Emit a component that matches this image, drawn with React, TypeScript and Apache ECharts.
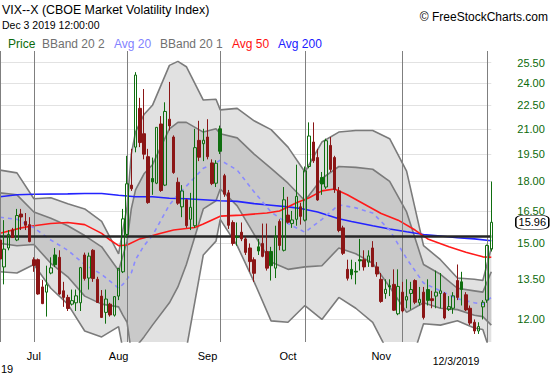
import React, { useEffect, useRef } from 'react';
import * as echarts from 'echarts';

const FONT = "'Liberation Sans', Arial, Helvetica, sans-serif";
const GREEN = '#0f6e0f';
const RED = '#8b1616';

const HOLIDAYS = ['2019-07-04', '2019-09-02', '2019-11-28'];
const FIRST_DAY = [2019, 5, 19];
const LAST_DAY = [2019, 11, 3];

// daily VIX candles (Jun 19 .. Dec 3 2019)
const open = [
  15.15, 14.0, 14.8, 15.6, 15.15, 16.35, 16.0, 15.85,
  14.3, 14.3, 13.2, 13.0, 13.75, 14.5, 14.4, 13.05, 12.8, 12.55, 12.6, 12.6, 14.5, 13.55, 14.7, 13.5, 12.85, 12.25, 12.55, 12.15, 12.85, 13.8,
  15.4, 17.8, 19.9, 22.3, 20.7, 19.35, 18.15, 17.9, 21.3, 17.8, 21.6, 20.5, 17.95, 16.7, 17.05, 16.1, 15.8, 20.3, 20.1, 20.5, 19.0, 17.9,
  21.0, 18.3, 17.4, 15.95, 15.3, 15.5, 15.2, 14.8, 14.3, 14.85, 15.0, 14.65, 14.65, 13.95, 16.0, 14.7, 16.3, 15.9, 16.1, 16.7,
  16.06, 18.8, 20.2, 19.3, 18.2, 17.7, 20.0, 19.3, 17.5, 15.7, 13.9, 13.9, 13.82, 14.3, 14.3, 14.2, 14.8, 14.0, 13.5, 12.95, 13.25, 13.3, 12.2,
  13.0, 12.7, 12.95, 13.45, 12.6, 13.0, 13.1, 12.75, 12.85, 12.95, 12.95, 12.35, 12.4, 13.45, 13.4, 12.9, 12.4, 11.9, 11.6, 12.45,
  12.7, 14.75,
];
const high = [
  15.3, 16.06, 15.6, 15.7, 16.6, 16.6, 16.4, 16.2,
  14.4, 14.35, 13.47, 14.05, 14.4, 14.8, 14.7, 13.4, 12.9, 13.1, 13.1, 14.0, 14.6, 14.6, 14.75, 13.6, 13.08, 13.1, 12.6, 12.85, 13.95, 16.6,
  19.4, 19.8, 24.8, 23.0, 23.6, 19.8, 19.3, 21.1, 21.8, 22.7, 24.1, 20.6, 18.2, 17.8, 17.1, 17.4, 21.0, 21.5, 21.0, 21.6, 19.2, 19.15,
  21.2, 18.4, 17.55, 16.05, 15.95, 15.95, 15.3, 15.0, 14.4, 15.2, 15.9, 15.9, 14.85, 15.8, 16.1, 17.7, 17.2, 16.5, 18.9, 16.9,
  18.8, 21.4, 21.4, 19.8, 18.5, 20.4, 20.5, 19.4, 17.7, 15.8, 14.3, 14.3, 14.2, 15.2, 14.7, 14.7, 15.1, 14.2, 13.75, 13.5, 13.5, 13.9, 13.9,
  13.4, 13.5, 13.4, 13.5, 13.2, 13.2, 13.5, 13.05, 13.85, 13.75, 13.0, 12.85, 13.0, 14.1, 13.8, 13.0, 12.5, 12.0, 11.9, 12.7,
  14.95, 17.99,
];
const low = [
  14.1, 13.3, 14.7, 15.25, 15.1, 15.6, 15.6, 15.05,
  13.8, 12.9, 12.55, 12.1, 13.7, 14.0, 12.9, 12.45, 12.3, 12.5, 12.3, 12.3, 13.45, 13.1, 13.4, 12.6, 12.05, 11.85, 12.1, 12.1, 12.7, 13.75,
  15.25, 17.5, 19.6, 19.9, 19.2, 16.85, 17.3, 17.85, 17.45, 17.75, 20.9, 18.4, 16.8, 16.2, 15.7, 15.6, 15.7, 19.1, 19.1, 19.2, 17.8, 17.7,
  19.5, 17.2, 15.65, 14.9, 14.9, 15.1, 14.5, 13.8, 13.4, 14.5, 14.4, 13.85, 13.45, 13.55, 14.7, 14.65, 15.9, 15.7, 15.8, 15.85,
  16.0, 18.7, 19.0, 17.0, 17.3, 17.6, 18.5, 17.4, 15.5, 14.5, 13.45, 13.5, 13.3, 13.85, 13.85, 14.0, 14.0, 13.6, 12.6, 12.75, 12.85, 12.3, 12.15,
  12.25, 12.4, 12.35, 12.55, 12.5, 12.0, 12.5, 12.4, 12.4, 12.4, 12.0, 12.3, 12.2, 12.7, 12.5, 12.3, 11.8, 11.5, 11.5, 12.0,
  12.6, 14.65,
];
const close = [
  14.33, 14.75, 15.4, 15.26, 16.28, 16.21, 15.82, 15.08,
  14.06, 12.93, 12.57, 13.28, 13.96, 14.09, 12.93, 12.8, 12.39, 12.68, 12.86, 13.97, 13.53, 14.45, 13.53, 12.61, 12.07, 12.74, 12.16, 12.83, 13.94, 16.12,
  17.87, 17.61, 24.59, 20.17, 19.49, 16.91, 17.97, 21.09, 17.52, 22.1, 21.18, 18.47, 16.88, 17.5, 15.8, 16.68, 19.87, 19.32, 20.31, 19.35, 17.88, 18.98,
  19.66, 17.33, 15.82, 15.0, 15.27, 15.2, 14.61, 14.22, 13.74, 14.67, 14.44, 13.95, 14.05, 15.32, 14.91, 17.05, 15.96, 16.07, 17.22, 16.24,
  18.56, 20.56, 19.12, 17.04, 17.86, 20.28, 18.64, 17.57, 15.58, 14.57, 13.54, 13.68, 13.79, 14.25, 14.0, 14.46, 14.01, 13.71, 12.65, 13.11, 13.2, 12.33, 13.22,
  12.3, 12.83, 13.1, 12.62, 12.73, 12.07, 12.69, 12.68, 13.0, 13.05, 12.05, 12.46, 12.86, 12.8, 13.1, 12.34, 11.87, 11.6, 11.75, 12.62,
  14.91, 15.96,
];

// Bollinger bands / 20-day average, read at sample days (index into trading days)
const bandIdx = [0, 4, 8, 12, 16, 20, 24, 28, 29, 30, 31, 32, 34, 36, 40, 42, 44, 48, 51, 52, 56, 60, 64, 68, 72, 76, 80, 84, 88, 92, 96, 100, 104, 108, 112, 114, 116];
const avg20 = [16.2, 16.1, 15.7, 15.15, 14.7, 14.1, 13.7, 13.15, 13.3, 13.5, 13.75, 14.3, 14.9, 15.35, 16.8, 17.3, 17.75, 18.7, 19.0, 19.16, 18.6, 17.45, 16.45, 15.9, 15.5, 16.1, 16.8, 16.65, 16.4, 15.6, 14.35, 13.35, 13.05, 12.75, 12.6, 12.55, 12.8];
const bbUpper2 = [18.6, 18.45, 17.1, 17.15, 16.85, 16.6, 16.0, 14.55, 15.6, 16.7, 19.5, 20.8, 21.9, 22.5, 25.3, 25.6, 25.2, 22.85, 22.9, 22.2, 22.3, 21.5, 20.95, 19.9, 18.5, 20.2, 20.8, 20.9, 20.9, 20.4, 18.55, 14.9, 14.3, 13.55, 13.5, 13.45, 14.8];
const bbUpper1 = [17.4, 17.3, 16.45, 16.15, 15.8, 15.35, 14.85, 13.85, 14.45, 15.1, 16.6, 17.55, 18.4, 18.9, 21.0, 21.4, 21.4, 20.8, 21.0, 20.7, 20.45, 19.5, 18.7, 17.9, 17.0, 18.15, 18.8, 18.75, 18.65, 18.0, 16.45, 14.1, 13.7, 13.15, 13.05, 13.0, 13.8];
const bbLower1 = [15.0, 14.9, 14.95, 14.15, 13.6, 12.85, 12.55, 12.45, 12.15, 11.9, 10.9, 11.05, 11.4, 11.8, 12.6, 13.2, 14.1, 16.6, 17.0, 17.6, 16.75, 15.4, 14.2, 13.9, 14.0, 14.05, 14.8, 14.55, 14.15, 13.2, 12.25, 12.6, 12.4, 12.35, 12.15, 12.1, 11.8];
const bbLower2 = [13.8, 13.75, 14.1, 13.15, 12.55, 11.6, 11.4, 11.75, 11.0, 10.3, 8.0, 7.8, 7.9, 8.2, 9.5, 10.2, 11.0, 14.5, 15.1, 16.1, 14.9, 13.4, 11.95, 11.9, 12.5, 12.0, 12.8, 12.4, 11.9, 10.8, 10.15, 11.85, 11.8, 11.95, 11.7, 11.65, 10.8];

const avg50Idx = [0, 5, 8, 12, 16, 20, 24, 26, 28, 30, 33, 38, 41, 46, 48, 52, 57, 63, 66, 70, 73, 76, 79, 82, 87, 90, 94, 98, 101, 106, 110, 114, 116];
const avg50 = [15.45, 15.7, 15.8, 15.9, 15.95, 15.85, 15.45, 15.15, 14.9, 14.93, 15.2, 15.45, 15.6, 15.72, 15.88, 16.25, 16.3, 16.4, 16.5, 16.9, 17.15, 17.5, 17.6, 17.3, 16.72, 16.38, 16.06, 15.6, 15.2, 14.85, 14.62, 14.42, 14.4];

const avg200Idx = [0, 4, 8, 16, 20, 24, 28, 32, 36, 40, 44, 48, 52, 56, 60, 64, 68, 71, 75, 80, 83, 88, 92, 96, 100, 104, 108, 112, 116];
const avg200 = [17.2, 17.3, 17.33, 17.35, 17.37, 17.37, 17.28, 17.2, 17.2, 17.13, 17.1, 17.05, 17.0, 16.97, 16.86, 16.78, 16.7, 16.62, 16.45, 16.13, 16.0, 15.8, 15.65, 15.52, 15.4, 15.33, 15.25, 15.2, 15.12];

const refLevel = 15.4;
const yTicks = [12, 13.5, 15, 16.5, 18, 19.5, 21, 22.5, 24, 25.5];
const yMin = 11.23;
const yMax = 26.39;
const monthLabelIdx = [8, 28, 49, 68, 90];
const monthNames = ['Jul', 'Aug', 'Sep', 'Oct', 'Nov'];

const ln = Math.log;

function buildDates(): string[] {
  const out: string[] = [];
  const hol = new Set(HOLIDAYS);
  let t = Date.UTC(FIRST_DAY[0], FIRST_DAY[1], FIRST_DAY[2]);
  const end = Date.UTC(LAST_DAY[0], LAST_DAY[1], LAST_DAY[2]);
  while (t <= end) {
    const d = new Date(t);
    const wd = d.getUTCDay();
    const s = d.toISOString().slice(0, 10);
    if (wd !== 0 && wd !== 6 && !hol.has(s)) out.push(s);
    t += 86400000;
  }
  return out;
}

function buildOption() {
  const dates = buildDates();
  const last = dates.length - 1;
  const monthStartIdx = dates
    .map((d, i) => (i === 0 || d.slice(5, 7) !== dates[i - 1].slice(5, 7) ? i : -1))
    .filter((i) => i >= 0);

  const pairs = (idx: number[], vals: number[]) => idx.map((i, k) => [i, ln(vals[k])]);

  const candleData = dates.map((_, i) => {
    const o = open[i];
    const c = close[i];
    const prev = i > 0 ? close[i - 1] : o;
    const col = c >= prev ? GREEN : RED;
    const fill = c < o ? col : 'rgba(255,255,255,0)';
    return {
      value: [ln(o), ln(c), ln(low[i]), ln(high[i])],
      itemStyle: { color: fill, color0: fill, borderColor: col, borderColor0: col, borderWidth: 1 },
    };
  });

  const bandFill = (upper: number[], lower: number[], fill: string, z: number) => ({
    type: 'custom',
    coordinateSystem: 'cartesian2d',
    clip: true,
    silent: true,
    z,
    data: [[0, ln(upper[0])]],
    renderItem: (_p: any, api: any) => {
      const top = bandIdx.map((i, k) => api.coord([i, ln(upper[k])]));
      const bot = bandIdx.map((i, k) => api.coord([i, ln(lower[k])])).reverse();
      return { type: 'polygon', shape: { points: top.concat(bot) }, style: { fill } };
    },
  });

  const bandLine = (vals: number[]) => ({
    type: 'line',
    data: pairs(bandIdx, vals),
    symbol: 'none',
    silent: true,
    z: 3,
    lineStyle: { color: '#7b7b7b', width: 1.6 },
  });

  const txt = (text: string, x: number, y: number, fill: string, size: number, align = 'left') => ({
    type: 'text',
    x,
    y,
    silent: true,
    style: { text, fill, fontSize: size, fontFamily: FONT, align, verticalAlign: 'middle' },
  });

  return {
    animation: false,
    backgroundColor: '#ffffff',
    textStyle: { fontFamily: FONT },
    grid: { left: 0, right: 58.7, top: 51, bottom: 33, containLabel: false, outerBoundsMode: 'none' },
    xAxis: {
      type: 'category',
      data: dates,
      boundaryGap: false,
      axisLine: { show: false },
      axisTick: { show: false },
      splitLine: { show: false },
      axisLabel: {
        interval: (i: number) => monthLabelIdx.includes(i),
        formatter: (_v: string, i: number) => {
          const k = monthLabelIdx.indexOf(i);
          return k >= 0 ? monthNames[k] : '';
        },
        color: '#000',
        fontSize: 11,
        fontFamily: FONT,
        margin: 8,
      },
    },
    yAxis: {
      type: 'value',
      position: 'right',
      min: ln(yMin),
      max: ln(yMax),
      axisLine: { show: false },
      axisTick: { show: false, customValues: yTicks.map(ln) },
      splitLine: { show: true, lineStyle: { color: '#e2e2e2', width: 1 } },
      axisLabel: {
        customValues: yTicks.map(ln),
        formatter: (v: number) => Math.exp(v).toFixed(2),
        color: '#0b6a0b',
        fontSize: 11,
        fontFamily: FONT,
        margin: 26,
      },
    },
    series: [
      bandFill(bbUpper2, bbLower2, '#e1e1e1', 1),
      bandFill(bbUpper1, bbLower1, '#c9c9c9', 2),
      bandLine(bbUpper2),
      bandLine(bbLower2),
      bandLine(bbUpper1),
      bandLine(bbLower1),
      {
        type: 'line',
        data: pairs(avg200Idx, avg200),
        symbol: 'none',
        silent: true,
        z: 4,
        lineStyle: { color: '#2323ff', width: 1.6 },
      },
      {
        type: 'line',
        data: pairs(avg50Idx, avg50),
        symbol: 'none',
        silent: true,
        z: 4,
        lineStyle: { color: '#ff1a1a', width: 1.6 },
      },
      {
        type: 'line',
        data: pairs(bandIdx, avg20),
        symbol: 'none',
        silent: true,
        z: 4,
        lineStyle: { color: '#8a8aff', width: 1.6, type: [4, 4] },
      },
      {
        type: 'candlestick',
        data: candleData,
        barWidth: 3,
        z: 5,
        silent: true,
        markLine: {
          silent: true,
          symbol: ['none', 'none'],
          label: { show: false },
          data: [
            ...monthStartIdx.map((i) => ({
              xAxis: dates[i],
              lineStyle: { color: '#7f7f7f', width: 1, type: 'solid' },
            })),
            { yAxis: ln(refLevel), lineStyle: { color: '#262626', width: 2.5, type: 'solid' } },
          ],
        },
        markPoint: {
          silent: true,
          data: [
            {
              coord: [dates[last], ln(close[last])],
              symbol: 'roundRect',
              symbolSize: [33, 14],
              symbolOffset: [41, 0],
              itemStyle: { color: '#ffffff', borderColor: '#000000', borderWidth: 1 },
              label: {
                show: true,
                position: 'inside',
                formatter: close[last].toFixed(2),
                color: '#000',
                fontSize: 11,
                fontFamily: FONT,
              },
            },
          ],
        },
      },
    ],
    graphic: [
      txt('VIX--X (CBOE Market Volatility Index)', 2, 9.5, '#000', 12.4),
      txt('Dec 3 2019 12:00:00', 2, 25, '#000', 10.5),
      txt('\u00a9 FreeStockCharts.com', 548, 17, '#000', 12, 'right'),
      txt('Price', 8, 43.5, '#0b6a0b', 12),
      txt('BBand 20 2', 42, 43.5, '#707070', 12),
      txt('Avg 20', 114, 43.5, '#8282ff', 12),
      txt('BBand 20 1', 160, 43.5, '#707070', 12),
      txt('Avg 50', 232, 43.5, '#ff1010', 12),
      txt('Avg 200', 278, 43.5, '#2020ff', 12),
      txt('19', 1, 369, '#000', 11),
      txt('12/3/2019', 456, 361, '#000', 10.5, 'center'),
    ],
  };
}

export default function App() {
  const ref = useRef<HTMLDivElement>(null);
  useEffect(() => {
    if (!ref.current) return;
    const chart = echarts.init(ref.current, null, { renderer: 'svg' });
    chart.setOption(buildOption() as any);
    return () => chart.dispose();
  }, []);
  return (
    <div
      ref={ref}
      style={{ position: 'fixed', left: 0, top: 0, width: 550, height: 375, background: '#fff' }}
    />
  );
}
